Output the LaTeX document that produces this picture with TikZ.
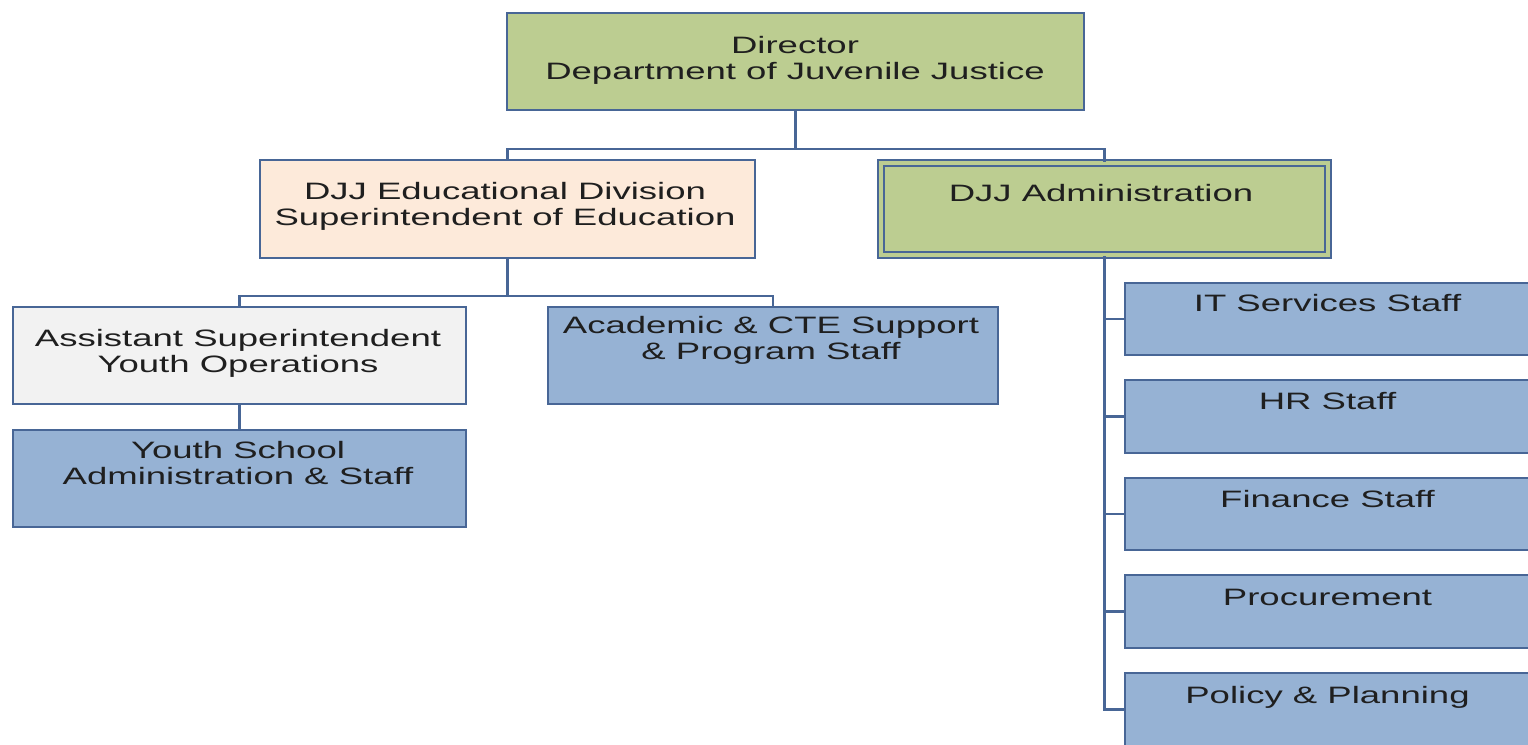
\documentclass[tikz,border=0pt]{standalone}
\usepackage{fontspec}
\setmainfont{Liberation Sans}[FakeStretch=1.54]
\usepackage{xcolor}
\usetikzlibrary{positioning}

\definecolor{dirgreen}{RGB}{188,205,145}
\definecolor{edupeach}{RGB}{253,234,218}
\definecolor{asstgray}{RGB}{242,242,242}
\definecolor{staffblue}{RGB}{150,178,212}
\definecolor{rulblue}{RGB}{72,102,150}

\tikzset{
  box/.style={draw=rulblue, line width=1.3pt, inner sep=0pt},
  txt/.style={align=center, inner sep=0pt, text=black!88,
    font=\fontsize{13.5}{14.8}\selectfont},
  link/.style={draw=rulblue, line width=1.3pt},
}

\begin{document}
\begin{tikzpicture}[x=0.02cm, y=-0.02cm]
        \useasboundingbox (0,0) rectangle (1528,744);
        \clip (0,0) rectangle (1528,744);
        % top
        \node[box, fill=dirgreen, minimum width=11.54cm, minimum height=1.94cm] at (795.5, 61.5) (dir) {};
        \node[txt] at (795, 60) (dirtxt) {Director\\Department of Juvenile Justice};
        % second row
        \node[box, fill=edupeach, minimum width=9.9cm, minimum height=1.96cm] at (507.5, 209) (edu) {};
        \node[txt] at (505, 206) (edutxt) {DJJ Educational Division\\Superintendent of Education};
        \node[box, fill=dirgreen, double=dirgreen, double distance=0.09cm, line width=0.9pt,
              minimum width=8.94cm, minimum height=1.85cm] at (1104.5, 209) (adm) {};
        \node[txt] at (1101, 193) (admtxt) {DJJ Administration};
        % education branch
        \node[box, fill=asstgray, minimum width=9.06cm, minimum height=1.94cm] at (239.5, 355.5) (asst) {};
        \node[txt] at (238, 353.5) (assttxt) {Assistant Superintendent\\Youth Operations};
        \node[box, fill=staffblue, minimum width=9cm, minimum height=1.94cm] at (773, 355.5) (acad) {};
        \node[txt] at (771, 340) (acadtxt) {Academic \& CTE Support\\\& Program Staff};
        \node[box, fill=staffblue, minimum width=9.06cm, minimum height=1.94cm] at (239.5, 478.5) (ysch) {};
        \node[txt] at (238, 463) (yschtxt) {Youth School\\Administration \& Staff};
        % administration branch
        \node[box, fill=staffblue, minimum width=8.1cm, minimum height=1.44cm] at (1327.5, 319) (it) {};
        \node[txt] at (1327.5, 303) (ittxt) {IT Services Staff};
        \node[box, fill=staffblue, minimum width=8.1cm, minimum height=1.46cm] at (1327.5, 416.5) (hr) {};
        \node[txt] at (1327.5, 401) (hrtxt) {HR Staff};
        \node[box, fill=staffblue, minimum width=8.1cm, minimum height=1.44cm] at (1327.5, 514) (fin) {};
        \node[txt] at (1327.5, 499) (fintxt) {Finance Staff};
        \node[box, fill=staffblue, minimum width=8.1cm, minimum height=1.46cm] at (1327.5, 611.5) (proc) {};
        \node[txt] at (1327.5, 597) (proctxt) {Procurement};
        \node[box, fill=staffblue, minimum width=8.1cm, minimum height=1.46cm] at (1327.5, 709.5) (pol) {};
        \node[txt] at (1327.5, 697) (poltxt) {Policy \& Planning};
        % connectors
        \draw[link] (dir.south) -- ++(0, 38) -| (edu.north);
        \draw[link] (dir.south) -- ++(0, 38) -| (adm.north);
        \draw[link] (edu.south) -- ++(0, 37) -| (asst.north);
        \draw[link] (edu.south) -- ++(0, 37) -| (acad.north);
        \draw[link] (asst.south) -- (ysch.north);
        \draw[link, line width=1.8pt] (adm.south) |- (pol.west);
        \draw[link] (adm.south) |- (it.west);
        \draw[link] (adm.south) |- (hr.west);
        \draw[link] (adm.south) |- (fin.west);
        \draw[link] (adm.south) |- (proc.west);
\end{tikzpicture}
\end{document}
